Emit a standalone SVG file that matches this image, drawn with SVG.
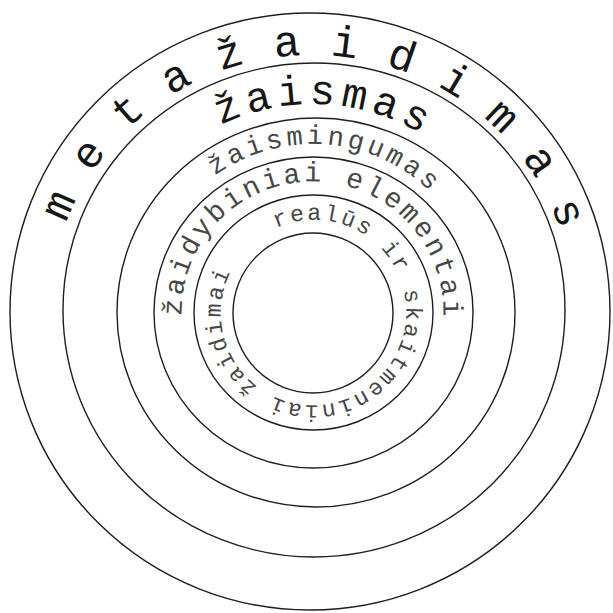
<svg xmlns="http://www.w3.org/2000/svg" xmlns:xlink="http://www.w3.org/1999/xlink" width="613" height="613" viewBox="0 0 613 613">
  <style>
    .ring { fill: none; stroke: #1e1e1e; stroke-width: 1.4; }
    .lbl { font-family: "Liberation Mono", "DejaVu Sans Mono", monospace; text-anchor: middle; }
    .dark { fill: #161616; }
    .grey { fill: #474747; }
  </style>
  <defs>
    <path id="p1" d="M 312 569 A 262 257 0 1 1 312 55 A 262 257 0 1 1 312 569"/>
    <path id="p2" d="M 313 520 A 210 208 0 1 1 313 104 A 210 208 0 1 1 313 520"/>
    <path id="p3" d="M 313 480 A 168 168 0 1 1 313 144 A 168 168 0 1 1 313 480"/>
    <path id="p4" d="M 312.5 443.5 A 131 131 0 1 1 312.5 181.5 A 131 131 0 1 1 312.5 443.5"/>
    <path id="p5" d="M 248.45 247.45 A 92 92 0 1 1 378.55 377.55 A 92 92 0 1 1 248.45 247.45"/>
  </defs>
  <rect width="613" height="613" fill="#ffffff"/>

  <g id="metazaidimas">
    <ellipse class="ring" cx="310" cy="311.5" rx="300" ry="298.5"/>
    <text class="lbl dark" font-size="44" letter-spacing="1.5"><textPath xlink:href="#p1" href="#p1" startOffset="819.4">m e t a ž a i d i m a s</textPath></text>
  </g>

  <g id="zaismas">
    <ellipse class="ring" cx="314" cy="310" rx="251" ry="247"/>
    <text class="lbl dark" font-size="42" letter-spacing="5.5"><textPath xlink:href="#p2" href="#p2" startOffset="667.9">žaismas</textPath></text>
  </g>

  <g id="zaismingumas">
    <ellipse class="ring" cx="316" cy="312.5" rx="199" ry="194.5"/>
    <text class="lbl grey" font-size="27" letter-spacing="3.6"><textPath xlink:href="#p3" href="#p3" startOffset="541.3">žaismingumas</textPath></text>
  </g>

  <g id="zaidybiniai-elementai">
    <ellipse class="ring" cx="313.5" cy="312.5" rx="159.5" ry="155.5"/>
    <text class="lbl grey" font-size="28" letter-spacing="3.3"><textPath xlink:href="#p4" href="#p4" startOffset="413.3">žaidybiniai elementai</textPath></text>
  </g>

  <g id="realus-ir-skaitmeniniai-zaidimai">
    <ellipse class="ring" cx="313.5" cy="312.5" rx="119.5" ry="117.5"/>
    <text class="lbl grey" font-size="23" letter-spacing="2.4"><textPath xlink:href="#p5" href="#p5" startOffset="293.0">realūs ir skaitmeniniai žaidimai</textPath></text>
  </g>

  <g id="core">
    <ellipse class="ring" cx="313" cy="313" rx="80" ry="80"/>
  </g>
</svg>
